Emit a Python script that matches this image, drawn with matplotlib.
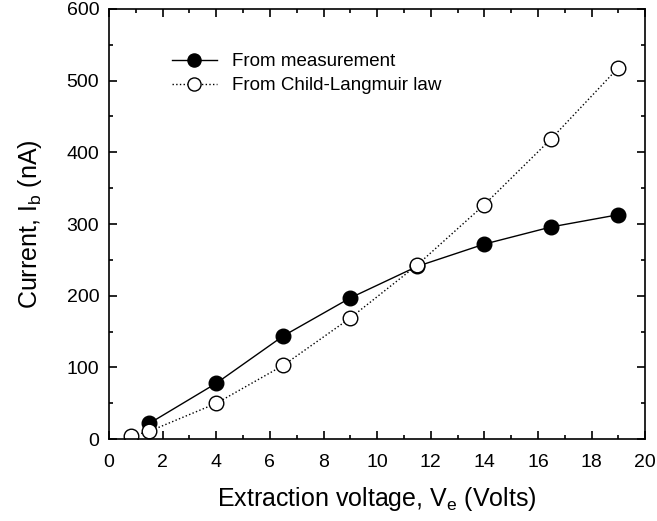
import matplotlib.pyplot as plt
from matplotlib.ticker import MultipleLocator

plt.rcParams['font.family'] = ['Liberation Sans', 'DejaVu Sans']

# measured beam current
v_meas = [1.5, 4, 6.5, 9, 11.5, 14, 16.5, 19]
i_meas = [22, 78, 144, 197, 241, 272, 296, 313]

# Child-Langmuir estimate
v_cl = [0.8, 1.5, 4, 6.5, 9, 11.5, 14, 16.5, 19]
i_cl = [4, 11, 50, 103, 169, 243, 327, 419, 518]

fig = plt.figure(figsize=(6.57, 5.21), dpi=100)
ax = fig.add_axes([0.166, 0.157, 0.816, 0.826])

ax.plot(v_meas, i_meas, '-', color='black', lw=1, marker='o', ms=10.5,
        mfc='black', mec='black', label='From measurement')
ax.plot(v_cl, i_cl, ':', color='black', lw=1, marker='o', ms=10.5,
        mfc='white', mec='black', label='From Child-Langmuir law')

ax.set_xlim(0, 20)
ax.set_ylim(0, 600)
ax.xaxis.set_major_locator(MultipleLocator(2))
ax.xaxis.set_minor_locator(MultipleLocator(1))
ax.yaxis.set_major_locator(MultipleLocator(100))
ax.yaxis.set_minor_locator(MultipleLocator(50))
ax.tick_params(which='both', direction='in', top=True, right=True, width=1.2)
ax.tick_params(which='major', length=6, labelsize=14)
ax.tick_params(axis='x', which='major', pad=10.5)
ax.tick_params(axis='y', which='major', pad=7)
ax.tick_params(which='minor', length=3)
for s in ax.spines.values():
    s.set_linewidth(1.2)

ax.set_xlabel('Extraction voltage, V$_\\mathregular{e}$ (Volts)', fontsize=18,
              labelpad=10)
ax.set_ylabel('Current, I$_\\mathregular{b}$ (nA)', fontsize=18, labelpad=16)

ax.legend(loc='upper left', bbox_to_anchor=(0.085, 0.936), frameon=False,
          fontsize=13.5, handlelength=2.4, markerscale=0.9, labelspacing=0.35,
          handletextpad=0.8)

fig.savefig('out.png')
